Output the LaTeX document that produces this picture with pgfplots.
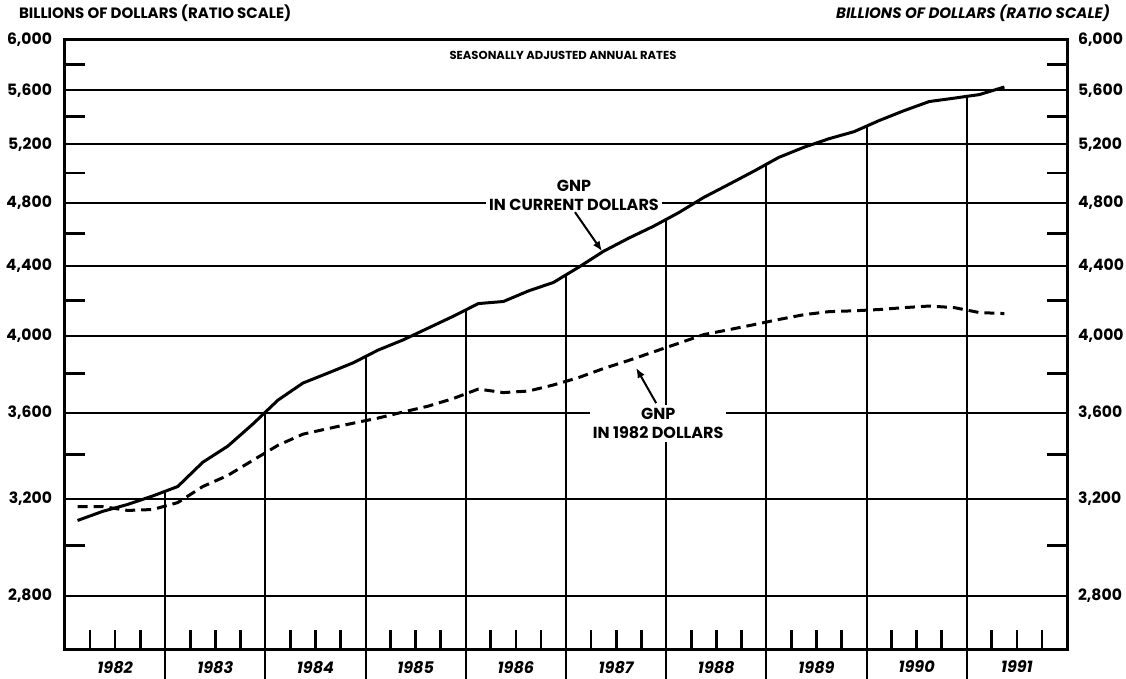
\documentclass[border=0pt]{standalone}
\usepackage{fontspec}
\setmainfont{Poppins}
\usepackage{pgfplots}
\pgfplotsset{compat=1.18}
\usetikzlibrary{arrows.meta}

\begin{document}
\begin{tikzpicture}
\begin{axis}[
  name=main,
  scale only axis, width=501pt, height=305pt,
  xmin=1982, xmax=1992,
  ymode=log, ymin=2600, ymax=6000,
  ytick={2800,3200,3600,4000,4400,4800,5200,5600,6000},
  yticklabels={{2,800},{3,200},{3,600},{4,000},{4,400},{4,800},{5,200},{5,600},{6,000}},
  minor ytick={3000,3400,3800,4200,4600,5000,5400,5800},
  ymajorgrids,
  grid style={black, line width=1pt},
  xtick={1982.5,1983.5,...,1991.5},
  xticklabels={1982,1983,1984,1985,1986,1987,1988,1989,1990,1991},
  minor xtick={1982.25,1982.5,1982.75,1983.25,1983.5,1983.75,1984.25,1984.5,1984.75,
    1985.25,1985.5,1985.75,1986.25,1986.5,1986.75,1987.25,1987.5,1987.75,
    1988.25,1988.5,1988.75,1989.25,1989.5,1989.75,1990.25,1990.5,1990.75,
    1991.25,1991.5,1991.75},
  xtick pos=left,
  ytick pos=both,
  yticklabel pos=left,
  tick align=inside,
  major tick length=0pt,
  minor tick length=10pt,
  minor tick style={black, line width=1.4pt},
  axis line style={black, line width=1.5pt},
  xticklabel style={font=\bfseries\itshape\fontsize{8}{10}\selectfont, yshift=-2pt},
  yticklabel style={font=\bfseries\fontsize{7.8}{10}\selectfont, xshift=-3pt},
  clip=false,
]
% year boundary lines, from below the axis up to the current-dollar curve
\addplot[black, line width=1pt, unbounded coords=jump] coordinates {
  (1983,2494) (1983,3236) (1983,nan)
  (1984,2494) (1984,3603) (1984,nan)
  (1985,2494) (1985,3897) (1985,nan)
  (1986,2494) (1986,4146) (1986,nan)
  (1987,2494) (1987,4351) (1987,nan)
  (1988,2494) (1988,4693) (1988,nan)
  (1989,2494) (1989,5062) (1989,nan)
  (1990,2494) (1990,5342) (1990,nan)
  (1991,2494) (1991,5552)
};
% GNP in current dollars
\addplot[black, line width=1.5pt, line join=round] coordinates {
  (1982.125,3105) (1982.375,3144) (1982.625,3174) (1982.875,3211)
  (1983.125,3253) (1983.375,3363) (1983.625,3438) (1983.875,3544)
  (1984.125,3662) (1984.375,3749) (1984.625,3801) (1984.875,3854)
  (1985.125,3922) (1985.375,3978) (1985.625,4042) (1985.875,4108)
  (1986.125,4180) (1986.375,4192) (1986.625,4253) (1986.875,4303)
  (1987.125,4393) (1987.375,4491) (1987.625,4572) (1987.875,4648)
  (1988.125,4735) (1988.375,4835) (1988.625,4922) (1988.875,5012)
  (1989.125,5108) (1989.375,5179) (1989.625,5240) (1989.875,5291)
  (1990.125,5372) (1990.375,5446) (1990.625,5514) (1990.875,5540)
  (1991.125,5567) (1991.375,5625)
};
% GNP in 1982 dollars
\addplot[black, line width=1.5pt, dash pattern=on 5pt off 3pt] coordinates {
  (1982.125,3165) (1982.375,3165) (1982.625,3148) (1982.875,3152)
  (1983.125,3182) (1983.375,3253) (1983.625,3303) (1983.875,3372)
  (1984.125,3442) (1984.375,3495) (1984.625,3522) (1984.875,3548)
  (1985.125,3573) (1985.375,3603) (1985.625,3632) (1985.875,3670)
  (1986.125,3718) (1986.375,3700) (1986.625,3708) (1986.875,3739)
  (1987.125,3777) (1987.375,3824) (1987.625,3867) (1987.875,3913)
  (1988.125,3959) (1988.375,4006) (1988.625,4033) (1988.875,4061)
  (1989.125,4090) (1989.375,4117) (1989.625,4134) (1989.875,4139)
  (1990.125,4146) (1990.375,4157) (1990.625,4166) (1990.875,4157)
  (1991.125,4129) (1991.375,4123)
};
% annotations
\node[fill=white, inner sep=1.5pt, align=center, font=\bfseries\fontsize{8}{9.5}\selectfont]
  at (axis cs:1987.08,4851) {GNP\\IN CURRENT DOLLARS};
\draw[-{Latex[length=5pt,width=4pt]}, line width=1pt] (axis cs:1987.09,4738) -- (axis cs:1987.36,4491);
\node[fill=white, inner sep=1.5pt, align=center, font=\bfseries\fontsize{8}{9.5}\selectfont]
  at (axis cs:1987.92,3548) {GNP\\IN 1982 DOLLARS};
\draw[-{Latex[length=5pt,width=4pt]}, line width=1pt] (axis cs:1987.90,3647) -- (axis cs:1987.70,3828);
\node[font=\bfseries\fontsize{5.8}{6}\selectfont] at (axis cs:1986.97,5874) {SEASONALLY ADJUSTED ANNUAL RATES};
\node[anchor=west, font=\bfseries\fontsize{7.5}{10}\selectfont] at (rel axis cs:-0.0529,1) [yshift=13.5pt]
  {BILLIONS OF DOLLARS (RATIO SCALE)};
\node[anchor=east, font=\bfseries\itshape\fontsize{7.5}{10}\selectfont] at (rel axis cs:1.0499,1) [yshift=13.5pt]
  {BILLIONS OF DOLLARS (RATIO SCALE)};
\end{axis}
\begin{axis}[
  scale only axis, width=501pt, height=305pt,
  xmin=1982, xmax=1992,
  ymode=log, ymin=2600, ymax=6000,
  ytick={2800,3200,3600,4000,4400,4800,5200,5600,6000},
  yticklabels={{2,800},{3,200},{3,600},{4,000},{4,400},{4,800},{5,200},{5,600},{6,000}},
  major tick length=0pt,
  hide x axis,
  axis y line*=right,
  y axis line style={draw=none},
  yticklabel style={font=\bfseries\fontsize{7.8}{10}\selectfont, xshift=2pt},
]
\end{axis}
\pgfresetboundingbox
\path[use as bounding box] (main.south west) ++(-32.5pt,-14.5pt) rectangle ++(563pt,339.5pt);
\end{tikzpicture}
\end{document}
